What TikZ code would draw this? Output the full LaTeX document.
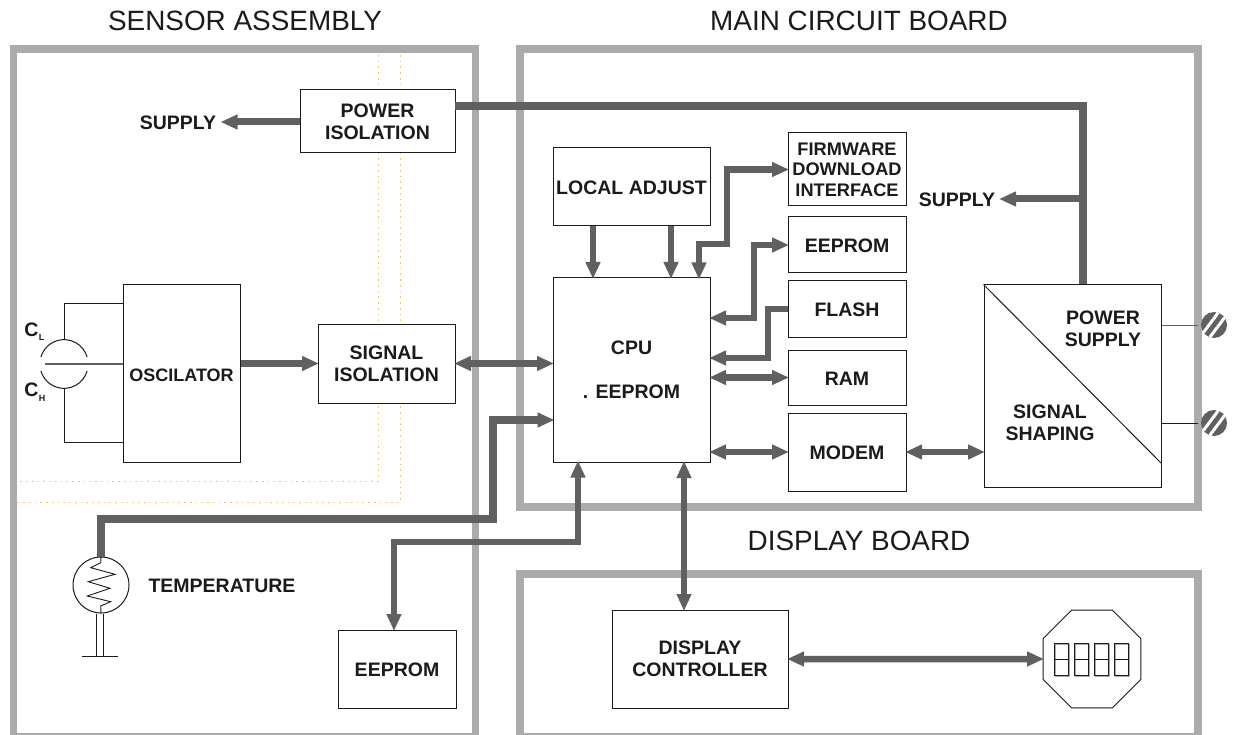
\documentclass[tikz,border=0pt]{standalone}
\usepackage{fontspec}
\setmainfont{Liberation Sans}
\usetikzlibrary{arrows.meta,shapes.geometric}
\definecolor{framegray}{HTML}{ABABAB}
\definecolor{flowgray}{HTML}{606060}
\definecolor{inkdark}{HTML}{1C1A1A}
\definecolor{dotorange}{HTML}{F8C664}
\tikzset{
    frame/.style={draw=framegray, line width=7.5pt, line join=miter},
    guide/.style={draw=dotorange, line width=0.8pt, dash pattern=on 2pt off 4pt on 1.5pt off 4pt},
    block/.style={draw=inkdark, fill=white, line width=1pt, inner sep=0pt, align=center, text=inkdark,
        font=\fontsize{19.5}{22}\selectfont\bfseries, execute at begin node={\rule{0pt}{16pt}}},
    label/.style={text=inkdark, inner sep=0pt, align=center, font=\fontsize{19.5}{22}\selectfont\bfseries},
    title/.style={text=inkdark, inner sep=0pt, font=\fontsize{27.9}{30}\selectfont},
    flow/.style={draw=flowgray, line width=6.5pt, line join=miter, shorten >=-1.5pt},
    flowboth/.style={flow, <->, shorten <=-1.5pt},
    wire/.style={draw=inkdark, line width=1pt},
    >={Triangle[length=17pt,width=14pt]}
}
\begin{document}
\begin{tikzpicture}[x=1pt, y=-1pt]
    \useasboundingbox (0,0) rectangle (1234,735);
    \fill[white] (0,0) rectangle (1234,735);

    % titles
    \node[title] (sensortitle) at (245,20.5) {SENSOR ASSEMBLY};
    \node[title] (maintitle) at (859,20.5) {MAIN CIRCUIT BOARD};
    \node[title] (displaytitle) at (859,540.5) {DISPLAY BOARD};

    % boards
    \draw[frame] (13.5,49) rectangle (475.5,737);
    \draw[frame] (520,49) rectangle (1198,507);
    \draw[frame] (520,574) rectangle (1198,737);

    \draw[guide] (378,55) -- (378,481) -- (17,481);
    \draw[guide] (400,55) -- (400,502) -- (17,502);

    % blocks
    \node[block, minimum width=155, minimum height=63] (pwriso) at (377.5,121.5) {POWER\\ISOLATION};
    \node[block, minimum width=117, minimum height=177,
        font=\fontsize{18}{22}\selectfont\bfseries] (osc) at (181.5,373.5) {OSCILATOR};
    \node[block, minimum width=137, minimum height=79] (sigiso) at (386.5,363.5) {SIGNAL\\ISOLATION};
    \node[block, minimum width=118, minimum height=78] (sensrom) at (397,669) {EEPROM};
    \node[block, minimum width=157, minimum height=78] (locadj) at (631.5,187) {LOCAL ADJUST};
    \node[block, minimum width=157, minimum height=184] (cpu) at (631.5,370) {CPU\\[22pt]. EEPROM};
    \node[block, minimum width=118, minimum height=73,
        font=\fontsize{18.2}{20.5}\selectfont\bfseries] (firmware) at (847,169.5) {FIRMWARE\\DOWNLOAD\\INTERFACE};
    \node[block, minimum width=118, minimum height=56] (mainrom) at (847,245) {EEPROM};
    \node[block, minimum width=118, minimum height=56] (flash) at (847,309) {FLASH};
    \node[block, minimum width=118, minimum height=55] (ram) at (847,377.5) {RAM};
    \node[block, minimum width=118, minimum height=78] (modem) at (847,452) {MODEM};
    \node[block, minimum width=177, minimum height=202] (shaper) at (1072.5,386) {};
    \node[block, minimum width=176, minimum height=98] (dispctl) at (700,659) {DISPLAY\\CONTROLLER};
    \node[block, regular polygon, regular polygon sides=8, minimum size=106] (lcd) at (1092,659) {};
    \node[draw=inkdark, circle, line width=1pt, minimum size=56, inner sep=0pt] (tempsens) at (101,585) {};

    % free labels
    \draw[wire] (shaper.north west) -- (1161,463);
    \node[label] (pwrlabel) at (1103,329) {POWER\\SUPPLY};
    \node[label] (shapelabel) at (1050,423) {SIGNAL\\SHAPING};
    \node[label] (supplya) at (178,123) {SUPPLY};
    \node[label] (supplyb) at (957,200) {SUPPLY};
    \node[label] (templabel) at (222,586) {TEMPERATURE};
    \node[label] (clabel) at (31.5,330) {C};
    \node[label, font=\fontsize{9}{9}\selectfont\bfseries] (clsub) at (41.5,337) {L};
    \node[label] (chlabel) at (31.5,390) {C};
    \node[label, font=\fontsize{9}{9}\selectfont\bfseries] (chsub) at (42,398) {H};

    % flows
    \coordinate (pwrout) at (455,106);
    \coordinate (pwrbend) at (1083,106);
    \coordinate (supplytap) at (1083,199);
    \coordinate (supplyatip) at (222,122);
    \coordinate (supplybtip) at (1000.5,199);
    \coordinate (fwbend) at (727,244);
    \coordinate (cpufw) at (699,278);
    \coordinate (rombend) at (754,318);
    \coordinate (flashbend) at (768,358);
    \coordinate (tempbend) at (493,519);
    \coordinate (cputemp) at (553,420);
    \coordinate (rombendb) at (394,542);
    \coordinate (cpurom) at (578,462);

    \draw[flow, ->, line width=7pt] (pwriso.west |- supplyatip) -- (supplyatip);
    \draw[flow, line width=7.5pt, shorten >=0pt] (pwrout) -- (pwrbend) -- (1083,0 |- shaper.north);
    \draw[flow, ->, line width=7pt] (supplytap) -- (supplybtip);
    \draw[flow, ->, line width=7pt] (osc.east |- sigiso) -- (sigiso.west);
    \draw[flowboth] (sigiso.east) -- (sigiso -| cpu.west);
    \foreach \x in {593,671}
        \draw[flow, ->] (\x,0 |- locadj.south) -- (\x,0 |- cpu.north);
    \draw[flowboth] (firmware.west) -| (fwbend) -| (cpufw);
    \draw[flowboth] (mainrom.west) -| (rombend) -- (rombend -| cpu.east);
    \draw[flow, ->] (flash.west) -| (flashbend) -- (flashbend -| cpu.east);
    \draw[flowboth] (ram.west) -- (ram -| cpu.east);
    \draw[flowboth] (modem.west) -- (modem -| cpu.east);
    \draw[flowboth] (modem.east) -- (modem -| shaper.west);
    \draw[flowboth] (684,0 |- cpu.south) -- (684,0 |- dispctl.north);
    \draw[flowboth] (dispctl.east) -- (lcd.west);
    \draw[flow, line width=7.5pt, ->] (tempsens.north) |- (tempbend) |- (cputemp);
    \draw[flowboth, line width=6pt] (sensrom.north -| rombendb) |- (rombendb -| cpurom) -- (cpurom);

    % capacitor
    \draw[wire] (osc.west |- 0,304) -- (64,304) -- (64,340);
    \draw[wire] (osc.west |- 0,442) -- (64,442) -- (64,388);
    \draw[draw=flowgray, line width=2pt] (45,364) -- (osc.west |- 0,364);
    \draw[wire] (87.1,357) arc[start angle=-16, end angle=-164, radius=24];
    \draw[wire] (87.1,371) arc[start angle=16, end angle=164, radius=24];

    % temperature probe
    \draw[wire, line width=0.9pt] (tempsens.north) -- (100.7,562.7) -- (90.7,567.7) -- (115,574.3) -- (88.3,581.7)
        -- (110,588.3) -- (87.3,596) -- (110.7,601.7) -- (100.7,606) -- (tempsens.south);
    \draw[wire] (96.8,0 |- tempsens.south) -- (96.8,656);
    \draw[wire] (103.6,0 |- tempsens.south) -- (103.6,656);
    \draw[wire] (82,656) -- (118,656);

    % display digits
    \foreach \x in {1054,1074,1094,1114} {
        \draw[draw=framegray, line width=1pt] (\x+1,644) rectangle (\x+15,676);
        \draw[wire] (\x,643) rectangle (\x+14,675);
        \draw[wire] (\x,659) -- (\x+14,659);
    }

    % terminals
    \foreach \y/\n/\c in {325/a/flowgray,423/b/inkdark} {
        \coordinate (term\n) at (1214,\y);
        \draw[wire, draw=\c] (shaper.east |- term\n) -- (1198,\y);
        \fill[flowgray] (term\n) circle (13);
        \begin{scope}[shift={(term\n)}]
            \foreach \s in {1,-1}
                \draw[white, line width=3pt] (\s*3.2-7.4,\s*2.4+9.9) -- (\s*3.2+7.4,\s*2.4-9.9);
        \end{scope}
    }
\end{tikzpicture}
\end{document}
